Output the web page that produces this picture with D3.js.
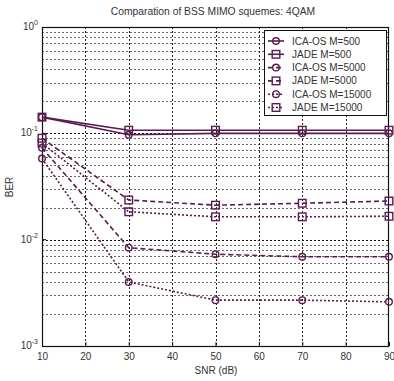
<!DOCTYPE html>
<html>
<head>
<meta charset="utf-8">
<script src="https://cdn.jsdelivr.net/npm/d3@7"></script>
<style>
  body { margin: 0; background: #fff; }
  text { font-family: "Liberation Sans", Arial, sans-serif; fill: #333; }
</style>
</head>
<body>
<div id="chart"></div>
<script>
const snr = [10, 30, 50, 70, 90];
const xTicks = [10, 20, 30, 40, 50, 60, 70, 80, 90];
const yDecades = [1e-3, 1e-2, 1e-1, 1];
const yExponents = [-3, -2, -1, 0];

const icaM500 = [0.142, 0.097, 0.100, 0.100, 0.100];
const jadeM500 = [0.142, 0.107, 0.107, 0.107, 0.107];
const icaM5000 = [0.073, 0.0084, 0.0073, 0.0069, 0.0069];
const jadeM5000 = [0.090, 0.0236, 0.0211, 0.0220, 0.0231];
const icaM15000 = [0.058, 0.0040, 0.0027, 0.0027, 0.0026];
const jadeM15000 = [0.081, 0.0183, 0.0164, 0.0164, 0.0166];

const seriesNames = ["ICA-OS M=500", "JADE M=500", "ICA-OS M=5000", "JADE M=5000", "ICA-OS M=15000", "JADE M=15000"];
const seriesValues = [icaM500, jadeM500, icaM5000, jadeM5000, icaM15000, jadeM15000];
const seriesMarker = ["circle", "square", "circle", "square", "circle", "square"];
const seriesDash = [null, null, "5,3", "5,3", "2,2", "2,2"];

const W = 394, H = 381;
const margin = { top: 27, right: 5, bottom: 35, left: 42 };
const color = "#5a1c50";
const FONT = "'Liberation Sans', Arial, sans-serif";

const svg = d3.select("#chart").append("svg")
  .attr("width", W)
  .attr("height", H);

const x = d3.scaleLinear()
  .domain([10, 90])
  .range([margin.left, W - margin.right]);

const y = d3.scaleLog()
  .domain([1e-3, 1])
  .range([H - margin.bottom, margin.top]);

// grid
const minorVals = [];
yDecades.slice(0, 3).forEach(d => {
  for (let k = 2; k <= 9; k++) minorVals.push(d * k);
});

svg.append("g")
  .selectAll("line")
  .data(minorVals)
  .enter()
  .append("line")
  .attr("x1", margin.left)
  .attr("x2", W - margin.right)
  .attr("y1", d => Math.round(y(d)) + 0.5)
  .attr("y2", d => Math.round(y(d)) + 0.5)
  .attr("stroke", "#666")
  .attr("stroke-dasharray", "2,2");

svg.append("g")
  .selectAll("line")
  .data(yDecades.slice(1, 3))
  .enter()
  .append("line")
  .attr("x1", margin.left)
  .attr("x2", W - margin.right)
  .attr("y1", d => Math.round(y(d)) + 0.5)
  .attr("y2", d => Math.round(y(d)) + 0.5)
  .attr("stroke", "#111")
  .attr("stroke-dasharray", "2,2");

svg.append("g")
  .selectAll("line")
  .data(xTicks.slice(1, -1))
  .enter()
  .append("line")
  .attr("x1", d => Math.round(x(d)) + 0.5)
  .attr("x2", d => Math.round(x(d)) + 0.5)
  .attr("y1", margin.top)
  .attr("y2", H - margin.bottom)
  .attr("stroke", "#222")
  .attr("stroke-dasharray", "2,2");

// frame
svg.append("rect")
  .attr("x", margin.left + 0.5)
  .attr("y", margin.top + 0.5)
  .attr("width", W - margin.left - margin.right - 1)
  .attr("height", H - margin.top - margin.bottom)
  .attr("fill", "none")
  .attr("stroke", "#111")
  .attr("stroke-width", 1.2);

// x axis
const xAxis = svg.append("g")
  .attr("transform", `translate(0,${H - margin.bottom})`)
  .call(d3.axisBottom(x).tickValues(xTicks).tickSize(-4).tickSizeOuter(0).tickPadding(7));
xAxis.select(".domain").remove();
xAxis.selectAll("line").attr("stroke", "#111");
xAxis.selectAll("text")
  .style("font-size", "10px")
  .style("font-family", FONT)
  .attr("fill", "#333");

// y axis labels 10^n
const yLab = svg.append("g")
  .selectAll("text")
  .data(yExponents)
  .enter()
  .append("text")
  .attr("x", margin.left - 4)
  .attr("y", d => y(Math.pow(10, d)) + 3)
  .attr("text-anchor", "end")
  .style("font-size", "10px")
  .style("font-family", FONT);
yLab.append("tspan").text("10");
yLab.append("tspan")
  .attr("dy", -5)
  .style("font-size", "7px")
  .text(d => d);

svg.append("g")
  .selectAll("line")
  .data(yDecades.slice(1, 3))
  .enter()
  .append("line")
  .attr("x1", margin.left)
  .attr("x2", margin.left + 4)
  .attr("y1", d => y(d))
  .attr("y2", d => y(d))
  .attr("stroke", "#111");

// titles
svg.append("text")
  .attr("x", 213)
  .attr("y", 15)
  .attr("text-anchor", "middle")
  .style("font-size", "10.3px")
  .style("font-family", FONT)
  .text("Comparation of BSS MIMO squemes: 4QAM");

svg.append("text")
  .attr("x", 216)
  .attr("y", 374)
  .attr("text-anchor", "middle")
  .style("font-size", "10px")
  .style("font-family", FONT)
  .text("SNR (dB)");

svg.append("text")
  .attr("transform", "translate(13,187) rotate(-90)")
  .attr("text-anchor", "middle")
  .style("font-size", "10px")
  .style("font-family", FONT)
  .text("BER");

// series
const line = d3.line()
  .x((d, i) => x(snr[i]))
  .y(d => y(d));

const drawMarker = (g, type, cx, cy) => {
  if (type === "circle") {
    g.append("circle")
      .attr("cx", cx).attr("cy", cy).attr("r", 3.3)
      .attr("fill", "none").attr("stroke", color).attr("stroke-width", 1.4);
  } else {
    g.append("rect")
      .attr("x", cx - 3.8).attr("y", cy - 3.8)
      .attr("width", 7.6).attr("height", 7.6)
      .attr("fill", "none").attr("stroke", color).attr("stroke-width", 1.4);
  }
};

seriesValues.forEach((vals, s) => {
  const g = svg.append("g");
  g.append("path")
    .datum(vals)
    .attr("fill", "none")
    .attr("stroke", color)
    .attr("stroke-width", 1.6)
    .attr("stroke-dasharray", seriesDash[s])
    .attr("d", line);
  vals.forEach((v, i) => drawMarker(g, seriesMarker[s], x(snr[i]), y(v)));
});

// legend
const leg = svg.append("g");
leg.append("rect")
  .attr("x", 264.5)
  .attr("y", 30.5)
  .attr("width", 122)
  .attr("height", 85)
  .attr("fill", "#fff")
  .attr("stroke", "#111");

seriesNames.forEach((name, s) => {
  const ly = 41 + s * 13.3;
  const g = leg.append("g");
  g.append("line")
    .attr("x1", 268).attr("x2", 284)
    .attr("y1", ly).attr("y2", ly)
    .attr("stroke", color)
    .attr("stroke-width", 1.6)
    .attr("stroke-dasharray", seriesDash[s]);
  drawMarker(g, seriesMarker[s], 276, ly);
  g.append("text")
    .attr("x", 292)
    .attr("y", ly + 3.5)
    .attr("text-anchor", "start")
    .style("font-size", "10px")
    .style("font-family", FONT)
    .attr("fill", "#555")
    .text(name);
});
</script>
</body>
</html>
